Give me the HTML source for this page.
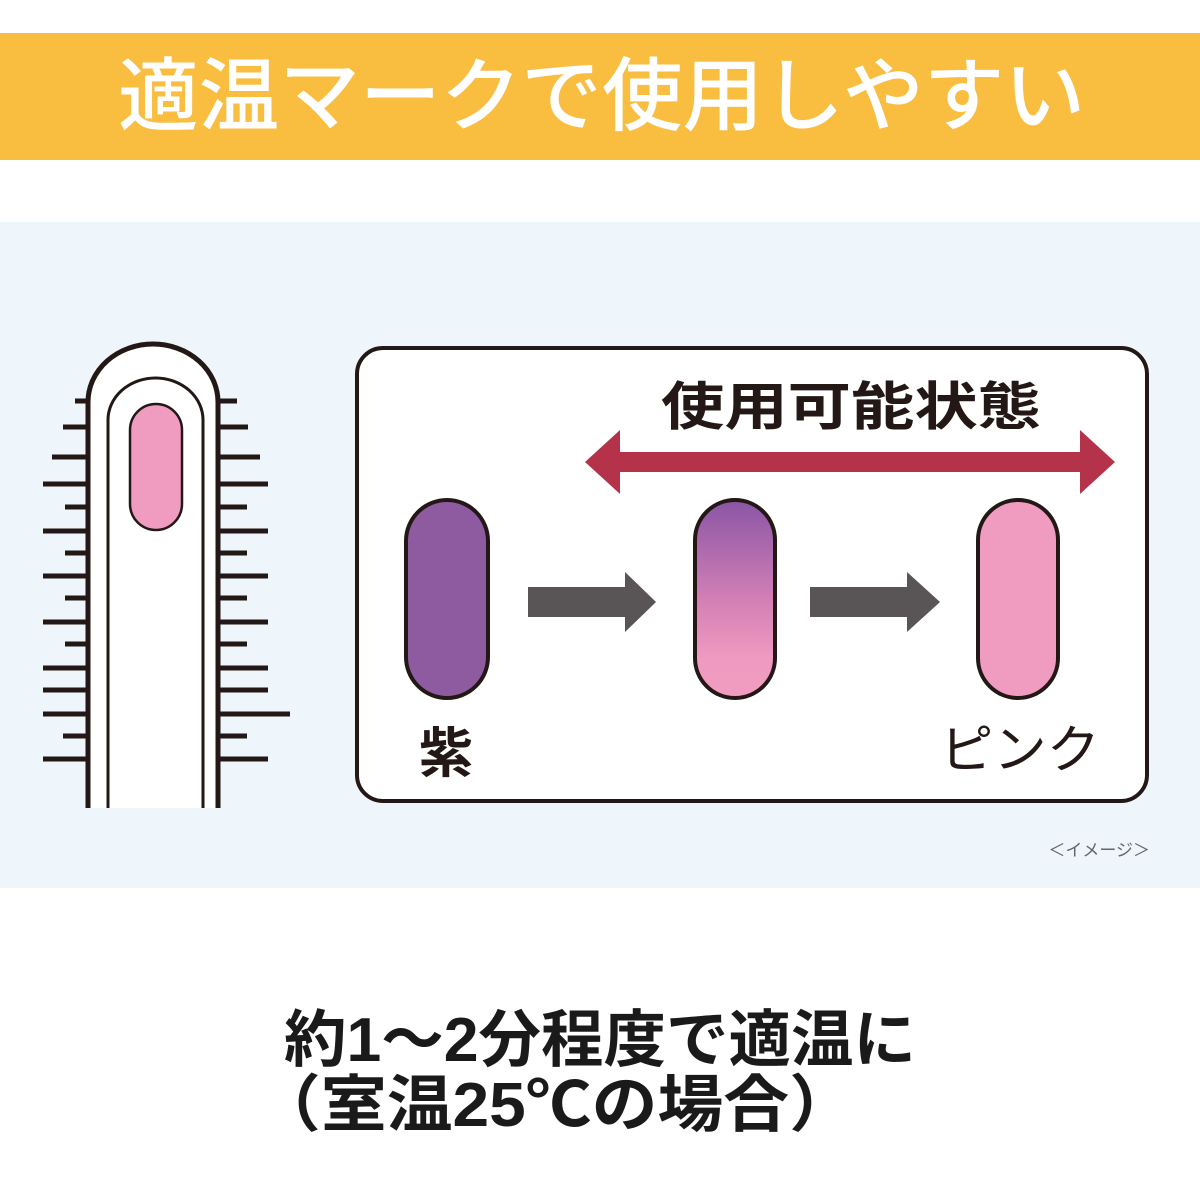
<!DOCTYPE html>
<html><head><meta charset="utf-8"><style>
html,body{margin:0;padding:0;background:#fff;}
svg{display:block;}
.jp{font-family:"Liberation Sans","Noto Sans CJK JP",sans-serif;}
</style></head><body>
<svg width="1200" height="1199" viewBox="0 0 1200 1199" xmlns="http://www.w3.org/2000/svg">
<defs>
<linearGradient id="g" x1="0" y1="0" x2="0" y2="1">
<stop offset="0" stop-color="#8a55a5"/>
<stop offset="0.5" stop-color="#d27fb5"/>
<stop offset="0.8" stop-color="#ef9ac0"/>
<stop offset="1" stop-color="#f09cc0"/>
</linearGradient>
</defs>
<rect x="0" y="0" width="1200" height="1199" fill="#fff"/>
<rect x="0" y="33" width="1200" height="127" fill="#f9bd3f"/>
<text x="118" y="124" class="jp" font-size="80" font-weight="500" fill="#fff" textLength="967" lengthAdjust="spacingAndGlyphs">適温マークで使用しやすい</text>
<rect x="0" y="222" width="1200" height="666" fill="#eef6fb"/>

<g stroke="#231815" stroke-width="5" fill="none">
<path d="M88,808 V402 A65,58 0 0 1 218,402 V808" fill="#fff"/>
<path d="M108,808 V420 A47.5,42 0 0 1 203,420 V808" stroke-width="3"/>
<g stroke-width="5">
<line x1="75" y1="401" x2="88" y2="401"/><line x1="63" y1="427" x2="88" y2="427"/>
<line x1="52" y1="457" x2="88" y2="457"/><line x1="43" y1="484" x2="88" y2="484"/>
<line x1="65" y1="507" x2="88" y2="507"/><line x1="43" y1="531" x2="88" y2="531"/>
<line x1="65" y1="553" x2="88" y2="553"/><line x1="43" y1="576" x2="88" y2="576"/>
<line x1="65" y1="598" x2="88" y2="598"/><line x1="43" y1="622" x2="88" y2="622"/>
<line x1="65" y1="644" x2="88" y2="644"/><line x1="43" y1="668" x2="88" y2="668"/>
<line x1="43" y1="690" x2="88" y2="690"/><line x1="43" y1="714" x2="88" y2="714"/>
<line x1="63" y1="736" x2="88" y2="736"/><line x1="43" y1="759" x2="88" y2="759"/>
<line x1="218" y1="401" x2="237" y2="401"/><line x1="218" y1="427" x2="248" y2="427"/>
<line x1="218" y1="457" x2="260" y2="457"/><line x1="218" y1="484" x2="268" y2="484"/>
<line x1="218" y1="507" x2="247" y2="507"/><line x1="218" y1="531" x2="268" y2="531"/>
<line x1="218" y1="553" x2="247" y2="553"/><line x1="218" y1="576" x2="268" y2="576"/>
<line x1="218" y1="598" x2="247" y2="598"/><line x1="218" y1="622" x2="268" y2="622"/>
<line x1="218" y1="644" x2="247" y2="644"/><line x1="218" y1="668" x2="268" y2="668"/>
<line x1="218" y1="690" x2="268" y2="690"/><line x1="218" y1="714" x2="290" y2="714"/>
<line x1="218" y1="736" x2="247" y2="736"/><line x1="218" y1="759" x2="268" y2="759"/>
</g>
</g>
<rect x="130" y="404" width="52" height="126" rx="26" fill="#f09cc0" stroke="#231815" stroke-width="2.5"/>

<rect x="357" y="348" width="790" height="453" rx="26" fill="#fff" stroke="#231815" stroke-width="4"/>
<text x="851" y="425" text-anchor="middle" class="jp" font-size="52" font-weight="bold" fill="#231815" textLength="380" lengthAdjust="spacingAndGlyphs">使用可能状態</text>
<polygon points="585,462 620,430 620,452 1080,452 1080,430 1115,462 1080,494 1080,472 620,472 620,494" fill="#b5334a"/>

<rect x="406" y="500" width="82" height="198" rx="41" fill="#8e5aa0" stroke="#231815" stroke-width="4"/>
<rect x="695" y="500" width="80" height="198" rx="40" fill="url(#g)" stroke="#231815" stroke-width="4"/>
<rect x="978" y="500" width="80" height="198" rx="40" fill="#f09cc0" stroke="#231815" stroke-width="4"/>

<polygon points="528,587 625,587 625,572 656,602 625,632 625,617 528,617" fill="#595455"/>
<polygon points="810,587 907,587 907,572 940,602 907,632 907,617 810,617" fill="#595455"/>

<text x="446" y="772" text-anchor="middle" class="jp" font-size="54" font-weight="bold" fill="#231815">紫</text>
<text x="1020" y="768" text-anchor="middle" class="jp" font-size="52" fill="#231815" textLength="160" lengthAdjust="spacingAndGlyphs">ピンク</text>
<text x="1150" y="856" text-anchor="end" class="jp" font-size="17" fill="#666">＜イメージ＞</text>

<text x="600" y="1061" text-anchor="middle" class="jp" font-size="62" font-weight="bold" fill="#1a1a1a" textLength="632" lengthAdjust="spacingAndGlyphs">約1～2分程度で適温に</text>
<text x="255" y="1126" class="jp" font-size="62" font-weight="bold" fill="#1a1a1a" textLength="600" lengthAdjust="spacingAndGlyphs">（室温25℃の場合）</text>
</svg>
</body></html>
